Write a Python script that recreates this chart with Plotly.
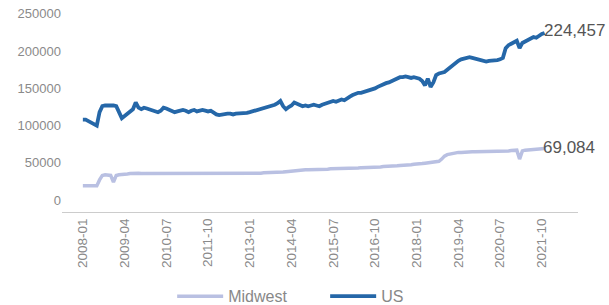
import plotly.graph_objects as go

months = [f"{y}-{m:02d}" for y in range(2008, 2022) for m in range(1, 13)][:167]

us = [108, 108, 106, 104, 101, 100, 118, 126, 127, 127, 128, 127,
      126, 118, 110, 113, 116, 118, 122, 131, 124, 122, 124, 123,
      122, 121, 120, 118, 120, 124, 123, 121, 120, 118, 119, 120,
      121, 120, 118, 120, 121, 119, 120, 121, 120, 119, 120, 117,
      115, 114, 115, 115, 116, 116, 115, 116, 116, 116, 117, 117,
      118, 119, 120, 121, 122, 123, 124, 126, 127, 128, 130, 133,
      126, 122, 125, 127, 131, 129, 127, 126, 127, 126, 127, 128,
      127, 126, 128, 129, 130, 132, 133, 132, 133, 135, 134, 137,
      139, 141, 143, 144, 144, 145, 147, 148, 149, 150, 152, 154,
      155, 157, 158, 160, 162, 164, 165, 165, 166, 165, 164, 165,
      164, 163, 160, 154, 163, 152, 158, 168, 170, 171, 172, 175,
      178, 182, 185, 187, 189, 190, 191, 192, 191, 190, 189, 188,
      187, 186, 187, 187, 188, 188, 189, 191, 204, 208, 210, 212,
      214, 204, 211, 213, 215, 217, 219, 218, 221, 223, 224.457]
us = [v * 1000 for v in us]

midwest = [19, 19, 18.5, 18.5, 19, 19, 27, 33, 34, 34, 33, 24,
           33, 34, 34, 35, 35, 35.5, 36, 36.5, 36, 35.5, 35.5, 35.5,
           35.5, 35.5, 35, 35, 35, 35.5, 35.5, 35.5, 35, 35, 35, 35,
           35, 35, 35, 35, 35, 35, 35, 35, 35, 35, 35, 35,
           35, 35, 35, 35, 35, 35, 35.5, 35.5, 35.5, 35.5, 35.5, 35.5,
           36, 36, 36, 36, 36, 36.5, 36.5, 36.5, 37, 37, 37, 37.5,
           37.5, 38, 38.5, 39, 39.5, 40, 40, 40, 40.5, 40.5, 40.5, 41,
           41, 41, 41.5, 41.5, 41.5, 42, 42, 42, 42, 42.5, 42.5, 42.5,
           43, 43, 43, 43, 43.5, 43.5, 43.5, 44, 44, 44, 44.5, 44.5,
           45, 45, 45.5, 45.5, 46, 46, 46.5, 46.5, 47, 47, 47.5, 48,
           48, 48.5, 49, 49.5, 50, 50.5, 51, 51.5, 52, 55, 59, 61,
           62, 63, 63.5, 64, 64, 64.5, 64.5, 64.5, 65, 65, 65, 65,
           65, 65, 65.5, 65.5, 65.5, 65.5, 66, 66, 66, 66, 66.5, 66.5,
           67, 55, 66, 67, 67.5, 68, 68, 68.5, 69, 69, 69.084]
midwest = [v * 1000 for v in midwest]

tick_labels = ["2008-01", "2009-04", "2010-07", "2011-10", "2013-01", "2014-04",
               "2015-07", "2016-10", "2018-01", "2019-04", "2020-07", "2021-10"]
y_ticks = [0, 50000, 100000, 150000, 200000, 250000]

idx = list(range(len(months)))

fig = go.Figure()
fig.add_trace(go.Scatter(x=idx, y=midwest, mode="lines", name="Midwest",
                         line=dict(color="#b9c0e2", width=3.5)))
fig.add_trace(go.Scatter(x=idx, y=us, mode="lines", name="US",
                         line=dict(color="#2567a8", width=3.8)))

fig.add_annotation(x=idx[-1], y=us[-1], text=f"{us[-1]:,.0f}", showarrow=False,
                   xanchor="left", yanchor="middle", xshift=-3, yshift=2,
                   font=dict(size=17, color="#555555", family="Liberation Sans"))
fig.add_annotation(x=idx[-1], y=midwest[-1], text=f"{midwest[-1]:,.0f}", showarrow=False,
                   xanchor="left", yanchor="middle", xshift=-4, yshift=1,
                   font=dict(size=17, color="#555555", family="Liberation Sans"))

tickvals = [months.index(t) for t in tick_labels]

fig.update_layout(
    width=609, height=305,
    margin=dict(l=62, r=31, t=5, b=93, autoexpand=False),
    paper_bgcolor="white", plot_bgcolor="white",
    font=dict(family="Liberation Sans", color="#8a8a8a", size=12),
    showlegend=True,
    legend=dict(orientation="h", x=0.51, xanchor="center", y=-0.325, yanchor="top",
                font=dict(size=16, color="#888888"), entrywidth=92,
                itemwidth=46),
    xaxis=dict(range=[-7.5, 178], tickmode="array", tickvals=tickvals,
               ticktext=tick_labels, tickangle=-90, showgrid=False,
               showline=True, linecolor="#cccccc", linewidth=1, ticks="",
               tickfont=dict(size=13.5, color="#8a8a8a"), zeroline=False,
               automargin=False),
    yaxis=dict(range=[-16100, 262000], tickmode="array", tickvals=y_ticks,
               ticktext=[str(v) for v in y_ticks], showgrid=False,
               zeroline=False, showline=False, ticks="",
               tickfont=dict(size=13, color="#8a8a8a"), automargin=False),
)

fig.write_html("out.html", config={"displayModeBar": False},
               post_script="document.body.style.margin='0';document.body.style.overflow='hidden';")
